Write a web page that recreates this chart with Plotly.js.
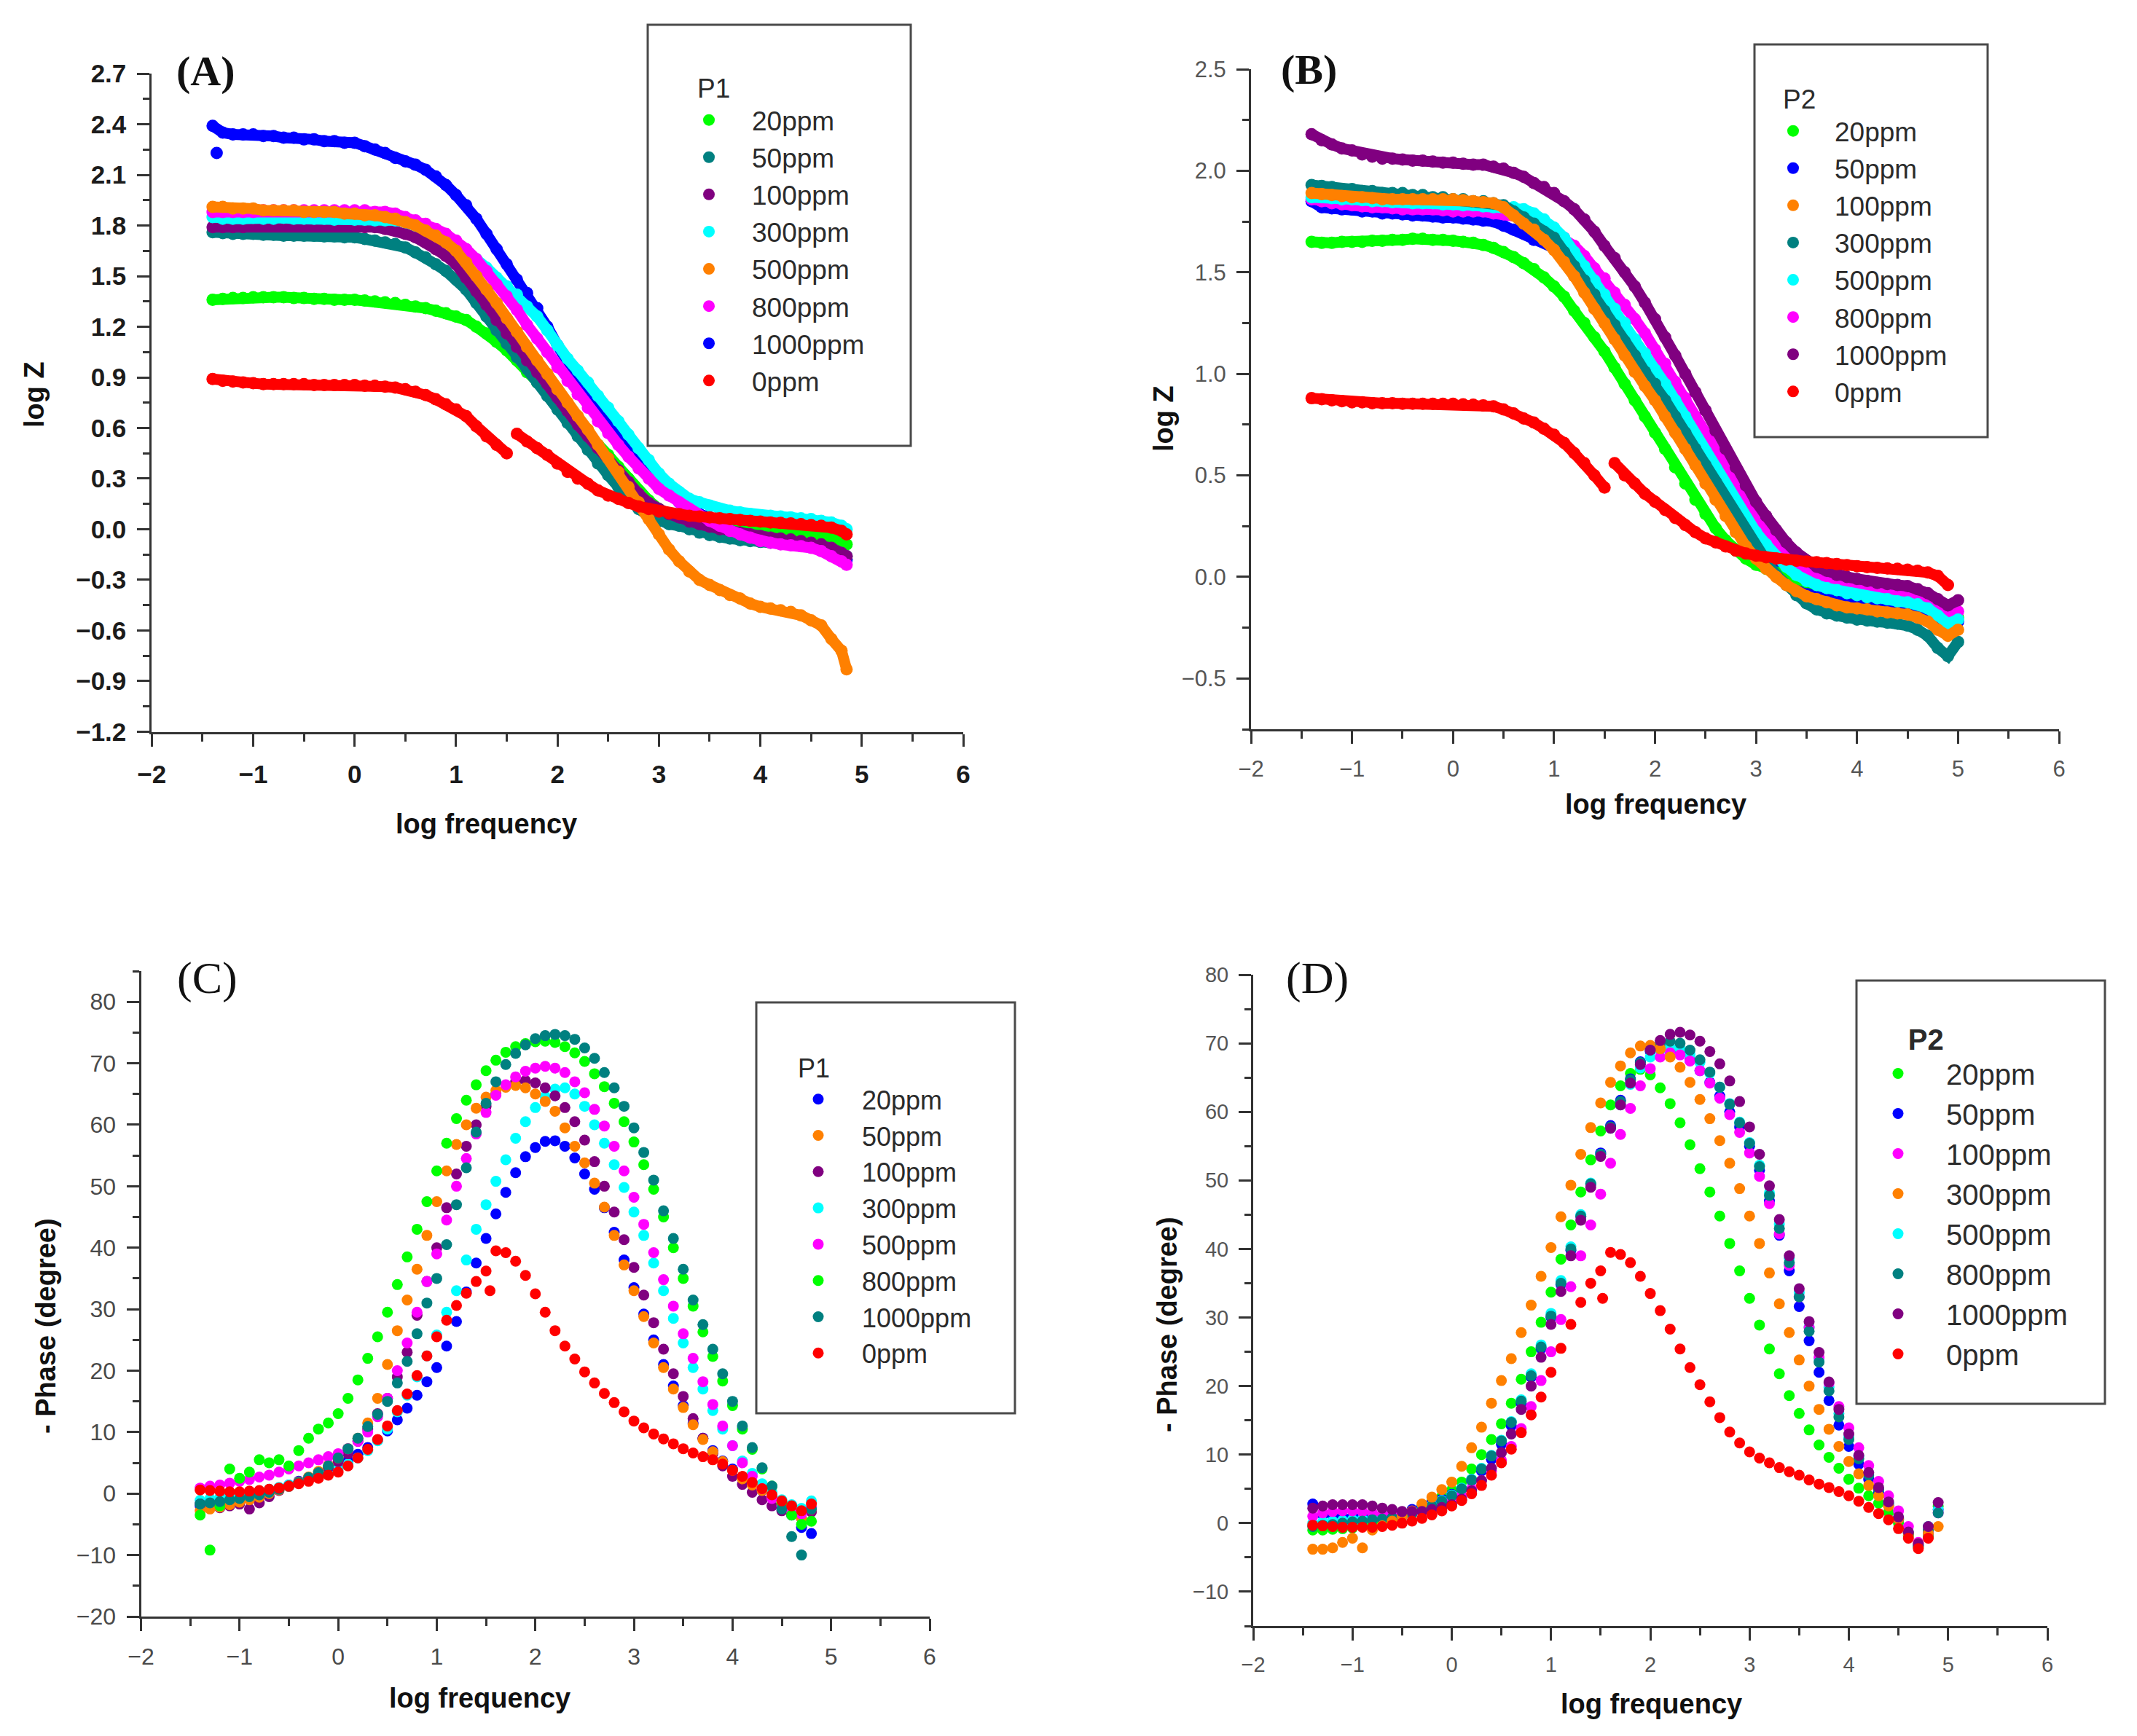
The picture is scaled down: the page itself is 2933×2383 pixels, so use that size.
<!DOCTYPE html>
<html>
<head>
<meta charset="utf-8">
<script src="https://cdn.plot.ly/plotly-3.0.1.min.js"></script>
<style>
html,body{margin:0;padding:0;background:#ffffff;}
#chart{width:2933px;height:2383px;}
</style>
</head>
<body>
<div id="chart"></div>
<script>
// ---------- shared x values (log frequency) ----------
const LOGF_A = [-1.4,-1.3,-1.2,-1.1,-1.0,-0.9,-0.8,-0.7,-0.6,-0.5,
  -0.4,-0.3,-0.2,-0.1,0.0,0.1,0.2,0.3,0.4,0.5,
  0.6,0.7,0.8,0.9,1.0,1.1,1.2,1.3,1.4,1.5,
  1.6,1.7,1.8,1.9,2.0,2.1,2.2,2.3,2.4,2.5,
  2.6,2.7,2.8,2.9,3.0,3.1,3.2,3.3,3.4,3.5,
  3.6,3.7,3.8,3.9,4.0,4.1,4.2,4.3,4.4,4.5,
  4.6,4.7,4.8,4.85];
const LOGF_B = [-1.4,-1.3,-1.2,-1.1,-1.0,-0.9,-0.8,-0.7,-0.6,-0.5,
  -0.4,-0.3,-0.2,-0.1,0.0,0.1,0.2,0.3,0.4,0.5,
  0.6,0.7,0.8,0.9,1.0,1.1,1.2,1.3,1.4,1.5,
  1.6,1.7,1.8,1.9,2.0,2.1,2.2,2.3,2.4,2.5,
  2.6,2.7,2.8,2.9,3.0,3.1,3.2,3.3,3.4,3.5,
  3.6,3.7,3.8,3.9,4.0,4.1,4.2,4.3,4.4,4.5,
  4.6,4.7,4.8,4.9,5.0];
const LOGF_C = [-1.4,-1.3,-1.2,-1.1,-1.0,-0.9,-0.8,-0.7,-0.6,-0.5,
  -0.4,-0.3,-0.2,-0.1,0.0,0.1,0.2,0.3,0.4,0.5,
  0.6,0.7,0.8,0.9,1.0,1.1,1.2,1.3,1.4,1.5,
  1.6,1.7,1.8,1.9,2.0,2.1,2.2,2.3,2.4,2.5,
  2.6,2.7,2.8,2.9,3.0,3.1,3.2,3.3,3.4,3.5,
  3.6,3.7,3.8,3.9,4.0,4.1,4.2,4.3,4.4,4.5,
  4.6,4.7,4.8];
const LOGF_D = [-1.4,-1.3,-1.2,-1.1,-1.0,-0.9,-0.8,-0.7,-0.6,-0.5,
  -0.4,-0.3,-0.2,-0.1,0.0,0.1,0.2,0.3,0.4,0.5,
  0.6,0.7,0.8,0.9,1.0,1.1,1.2,1.3,1.4,1.5,
  1.6,1.7,1.8,1.9,2.0,2.1,2.2,2.3,2.4,2.5,
  2.6,2.7,2.8,2.9,3.0,3.1,3.2,3.3,3.4,3.5,
  3.6,3.7,3.8,3.9,4.0,4.1,4.2,4.3,4.4,4.5,
  4.6,4.7,4.8,4.9];

const LEGEND_LABELS = ['20ppm','50ppm','100ppm','300ppm','500ppm','800ppm','1000ppm','0ppm'];

// ---------- (A) P1, log Z ----------
const A_20 = [1.36,1.365,1.37,1.37,1.375,1.375,1.375,1.375,1.37,1.37,
  1.365,1.365,1.36,1.36,1.36,1.355,1.35,1.345,1.34,1.33,
  1.32,1.31,1.295,1.28,1.26,1.24,1.20,1.16,1.11,1.06,
  1.00,0.93,0.87,0.80,0.74,0.68,0.62,0.56,0.50,0.44,
  0.37,0.30,0.23,0.17,0.12,0.08,0.05,0.03,0.015,0.005,
  0.0,-0.005,-0.01,-0.015,-0.02,-0.02,-0.025,-0.03,-0.03,-0.035,
  -0.04,-0.05,-0.07,-0.09];
const A_50 = [1.76,1.755,1.75,1.75,1.75,1.745,1.745,1.74,1.74,1.74,
  1.74,1.735,1.735,1.73,1.73,1.72,1.71,1.70,1.69,1.67,
  1.64,1.61,1.57,1.53,1.48,1.42,1.34,1.26,1.18,1.10,
  1.02,0.95,0.87,0.79,0.71,0.63,0.55,0.47,0.39,0.32,
  0.25,0.18,0.12,0.08,0.05,0.03,0.02,0.00,-0.02,-0.035,
  -0.045,-0.055,-0.065,-0.07,-0.075,-0.08,-0.085,-0.09,-0.095,-0.10,
  -0.105,-0.12,-0.15,-0.16];
const A_100 = [1.79,1.79,1.79,1.79,1.80,1.80,1.80,1.80,1.80,1.80,
  1.80,1.80,1.80,1.80,1.80,1.79,1.79,1.78,1.77,1.75,
  1.73,1.70,1.66,1.62,1.57,1.49,1.41,1.33,1.24,1.16,
  1.08,1.00,0.93,0.86,0.78,0.70,0.62,0.55,0.48,0.42,
  0.35,0.28,0.21,0.155,0.12,0.09,0.07,0.045,0.03,0.015,
  0.0,-0.01,-0.02,-0.03,-0.04,-0.05,-0.055,-0.06,-0.07,-0.08,
  -0.09,-0.11,-0.14,-0.16];
const A_300 = [1.85,1.84,1.84,1.84,1.845,1.84,1.84,1.845,1.84,1.84,
  1.84,1.84,1.835,1.84,1.835,1.835,1.83,1.83,1.83,1.82,
  1.80,1.78,1.76,1.73,1.69,1.65,1.60,1.55,1.49,1.44,
  1.39,1.32,1.26,1.18,1.09,1.01,0.94,0.87,0.79,0.72,
  0.64,0.56,0.48,0.41,0.33,0.27,0.22,0.18,0.16,0.14,
  0.12,0.11,0.10,0.09,0.08,0.08,0.075,0.07,0.065,0.06,
  0.05,0.04,0.02,0.00];
const A_500 = [1.91,1.91,1.90,1.90,1.90,1.89,1.89,1.89,1.89,1.88,
  1.88,1.88,1.88,1.87,1.87,1.86,1.86,1.85,1.84,1.82,
  1.80,1.77,1.74,1.70,1.65,1.58,1.50,1.42,1.34,1.25,
  1.17,1.08,1.00,0.92,0.83,0.75,0.67,0.59,0.50,0.42,
  0.34,0.25,0.16,0.06,-0.03,-0.12,-0.19,-0.25,-0.30,-0.33,
  -0.36,-0.39,-0.41,-0.44,-0.46,-0.47,-0.48,-0.49,-0.51,-0.54,
  -0.57,-0.65,-0.72,-0.83];
const A_800 = [1.88,1.88,1.88,1.88,1.88,1.89,1.89,1.89,1.89,1.89,
  1.89,1.89,1.89,1.89,1.89,1.89,1.88,1.88,1.87,1.85,
  1.83,1.81,1.78,1.75,1.71,1.66,1.60,1.53,1.45,1.38,
  1.30,1.21,1.13,1.05,0.96,0.88,0.80,0.72,0.64,0.57,
  0.50,0.43,0.36,0.30,0.24,0.20,0.16,0.12,0.08,0.05,
  0.02,-0.01,-0.03,-0.05,-0.07,-0.08,-0.09,-0.095,-0.10,-0.11,
  -0.13,-0.16,-0.19,-0.21];
const A_1000 = [2.39,2.35,2.34,2.34,2.34,2.33,2.33,2.32,2.32,2.31,
  2.31,2.30,2.30,2.29,2.29,2.27,2.25,2.23,2.20,2.18,
  2.16,2.13,2.09,2.04,1.98,1.92,1.84,1.75,1.66,1.57,
  1.48,1.40,1.31,1.20,1.09,0.98,0.88,0.79,0.71,0.64,
  0.56,0.48,0.41,0.34,0.28,0.22,0.16,0.12,0.09,0.07,
  0.05,0.03,0.02,0.01,0.00,-0.01,-0.02,-0.03,-0.04,-0.05,
  -0.07,-0.10,-0.15,-0.18];
const A_1000_OUT_X = [-1.36];
const A_1000_OUT_Y = [2.23];
const A_0 = [0.89,0.88,0.875,0.87,0.865,0.86,0.86,0.86,0.86,0.86,
  0.855,0.855,0.855,0.855,0.855,0.85,0.85,0.845,0.84,0.83,
  0.815,0.795,0.77,0.74,0.71,0.67,0.61,0.55,0.50,0.45,
  0.565,0.52,0.48,0.44,0.39,0.34,0.30,0.27,0.23,0.20,
  0.18,0.155,0.135,0.12,0.105,0.095,0.09,0.08,0.075,0.07,
  0.065,0.06,0.055,0.05,0.045,0.04,0.038,0.035,0.03,0.025,
  0.02,0.01,-0.01,-0.03];

// ---------- (B) P2, log Z ----------
const B_20 = [1.65,1.645,1.645,1.65,1.65,1.65,1.655,1.655,1.66,1.66,
  1.665,1.665,1.66,1.66,1.655,1.65,1.645,1.635,1.62,1.60,
  1.575,1.545,1.515,1.475,1.43,1.38,1.31,1.25,1.18,1.11,
  1.03,0.95,0.87,0.79,0.71,0.63,0.54,0.46,0.38,0.31,
  0.24,0.18,0.13,0.09,0.06,0.04,0.02,0.005,-0.01,-0.025,
  -0.04,-0.05,-0.065,-0.075,-0.085,-0.095,-0.10,-0.11,-0.115,-0.12,
  -0.13,-0.15,-0.18,-0.22,-0.20];
const B_50 = [1.85,1.82,1.815,1.81,1.81,1.80,1.80,1.79,1.79,1.785,
  1.78,1.78,1.775,1.77,1.77,1.765,1.76,1.755,1.75,1.73,
  1.71,1.69,1.66,1.65,1.62,1.58,1.52,1.45,1.38,1.31,
  1.24,1.17,1.10,1.02,0.95,0.88,0.80,0.72,0.64,0.56,
  0.48,0.40,0.32,0.24,0.17,0.10,0.04,-0.01,-0.04,-0.07,
  -0.09,-0.10,-0.11,-0.12,-0.125,-0.13,-0.135,-0.14,-0.145,-0.15,
  -0.16,-0.18,-0.21,-0.25,-0.22];
const B_100 = [1.89,1.885,1.88,1.875,1.87,1.87,1.865,1.86,1.86,1.86,
  1.86,1.86,1.86,1.86,1.86,1.855,1.85,1.845,1.84,1.82,
  1.78,1.74,1.71,1.66,1.61,1.55,1.48,1.40,1.32,1.25,
  1.17,1.09,1.01,0.94,0.87,0.79,0.71,0.63,0.55,0.46,
  0.38,0.30,0.22,0.15,0.09,0.04,0.0,-0.04,-0.07,-0.095,
  -0.11,-0.125,-0.14,-0.15,-0.155,-0.16,-0.17,-0.175,-0.18,-0.185,
  -0.20,-0.22,-0.26,-0.29,-0.26];
const B_300 = [1.93,1.925,1.92,1.91,1.91,1.90,1.90,1.89,1.89,1.89,
  1.88,1.88,1.87,1.87,1.86,1.86,1.85,1.85,1.84,1.83,
  1.80,1.77,1.74,1.70,1.67,1.60,1.53,1.46,1.39,1.31,
  1.24,1.16,1.09,1.01,0.95,0.87,0.79,0.71,0.63,0.55,
  0.47,0.38,0.30,0.22,0.15,0.08,0.01,-0.04,-0.09,-0.13,
  -0.16,-0.18,-0.19,-0.20,-0.21,-0.215,-0.22,-0.225,-0.23,-0.24,
  -0.26,-0.29,-0.35,-0.39,-0.32];
const B_500 = [1.87,1.87,1.865,1.86,1.86,1.855,1.85,1.85,1.845,1.845,
  1.84,1.84,1.84,1.835,1.835,1.83,1.83,1.825,1.82,1.82,
  1.82,1.81,1.79,1.76,1.72,1.67,1.60,1.53,1.46,1.39,
  1.32,1.25,1.17,1.10,1.02,0.95,0.87,0.79,0.70,0.62,
  0.54,0.45,0.37,0.29,0.22,0.16,0.10,0.05,0.01,-0.02,
  -0.04,-0.055,-0.065,-0.08,-0.09,-0.10,-0.105,-0.11,-0.12,-0.125,
  -0.135,-0.155,-0.19,-0.23,-0.21];
const B_800 = [1.86,1.85,1.84,1.835,1.83,1.825,1.82,1.82,1.815,1.81,
  1.81,1.81,1.81,1.805,1.80,1.80,1.80,1.80,1.79,1.785,
  1.78,1.77,1.75,1.72,1.70,1.67,1.63,1.58,1.52,1.47,
  1.40,1.34,1.27,1.20,1.12,1.05,0.96,0.88,0.79,0.71,
  0.62,0.53,0.45,0.37,0.29,0.22,0.15,0.10,0.06,0.025,
  0.0,-0.02,-0.035,-0.05,-0.06,-0.07,-0.075,-0.08,-0.09,-0.095,
  -0.105,-0.12,-0.15,-0.195,-0.17];
const B_1000 = [2.18,2.15,2.13,2.11,2.10,2.08,2.07,2.06,2.06,2.055,
  2.05,2.05,2.045,2.04,2.04,2.035,2.03,2.03,2.02,2.01,
  1.99,1.97,1.94,1.92,1.89,1.85,1.81,1.76,1.70,1.63,
  1.57,1.50,1.43,1.35,1.27,1.18,1.09,1.00,0.91,0.82,
  0.72,0.63,0.54,0.45,0.37,0.30,0.23,0.17,0.12,0.08,
  0.05,0.03,0.01,0.0,-0.01,-0.02,-0.03,-0.035,-0.04,-0.045,
  -0.06,-0.08,-0.11,-0.14,-0.115];
const B_0 = [0.88,0.875,0.87,0.865,0.86,0.86,0.855,0.855,0.855,0.853,
  0.853,0.853,0.853,0.853,0.853,0.85,0.848,0.845,0.84,0.825,
  0.805,0.78,0.76,0.73,0.70,0.66,0.61,0.56,0.50,0.44,
  0.56,0.50,0.46,0.41,0.37,0.33,0.29,0.255,0.22,0.19,
  0.17,0.15,0.13,0.115,0.105,0.097,0.09,0.085,0.08,0.076,
  0.072,0.068,0.063,0.058,0.053,0.048,0.045,0.042,0.04,0.036,
  0.03,0.022,0.005,-0.04];

// ---------- (C) P1, -Phase ----------
const C_20 = [-2.0,-1.8,-1.6,-1.3,-1.0,-0.6,-0.2,0.3,0.8,1.4,
  2.0,2.6,3.2,3.9,4.6,5.4,6.4,7.5,8.7,10.2,
  12.0,13.9,16.0,18.2,20.5,24.0,28.0,32.8,37.5,41.5,
  45.5,49.0,52.2,54.8,56.3,57.3,57.4,56.5,54.6,52.0,
  49.5,46.5,42.5,38.0,33.5,29.2,25.0,21.0,17.5,14.3,
  11.5,9.0,7.0,5.3,4.0,2.7,1.6,0.5,-0.7,-2.0,
  -3.5,-5.5,-6.5];
const C_50 = [-2.8,-2.5,-2.2,-1.8,-1.4,-1.0,-0.6,0.0,0.6,1.2,
  1.9,2.7,3.6,4.6,5.8,7.3,9.0,11.5,15.5,21.0,
  26.5,31.5,36.5,42.0,47.5,52.5,56.8,60.0,62.7,64.5,
  65.6,66.1,66.4,66.0,65.0,63.8,62.2,59.5,56.5,53.8,
  50.5,46.6,42.0,37.2,33.0,28.8,24.5,20.5,17.0,14.0,
  11.2,8.8,6.8,5.2,3.8,2.4,1.4,0.5,-0.6,-1.6,
  -2.8,-4.0,-2.5];
const C_100 = [-1.7,-2.0,-2.3,-2.0,-1.7,-2.5,-1.5,-0.5,0.5,1.2,
  1.8,2.5,3.2,4.2,5.2,6.5,8.5,10.5,13.0,15.5,
  19.0,23.0,29.0,34.5,40.0,46.5,52.0,56.5,60.0,63.0,
  65.0,66.4,67.0,67.2,66.8,66.0,64.7,62.8,60.5,57.5,
  54.0,50.0,45.8,41.3,36.8,32.3,27.8,23.5,19.5,15.8,
  12.2,9.0,6.5,4.5,2.8,1.5,0.2,-1.0,-2.0,-2.8,
  -3.4,-4.0,-3.0];
const C_300 = [-1.1,-0.8,-0.6,-0.4,-0.2,0.1,0.4,0.7,1.0,1.4,
  1.8,2.3,2.8,3.4,4.0,4.8,5.8,7.0,8.6,10.5,
  13.3,16.0,19.0,22.4,25.8,29.5,33.0,38.0,43.0,47.0,
  50.8,54.3,57.8,60.5,62.8,64.6,65.8,66.0,65.0,63.0,
  60.0,57.0,53.5,49.8,45.8,42.0,37.5,33.0,28.5,24.5,
  20.5,17.0,13.5,10.5,7.8,5.3,3.3,1.6,0.2,-1.0,
  -1.8,-2.4,-1.2];
const C_500 = [0.9,1.2,1.4,1.7,2.0,2.3,2.7,3.0,3.5,4.0,
  4.5,5.0,5.5,6.0,6.5,7.3,8.5,10.0,12.5,15.5,
  20.0,24.5,29.5,34.5,39.0,44.5,50.0,54.5,58.5,62.0,
  64.8,66.5,67.8,68.7,69.2,69.5,69.2,68.5,67.0,65.2,
  62.5,59.8,56.5,52.5,48.2,43.8,39.2,34.8,30.5,26.0,
  22.0,18.2,14.5,11.0,7.8,5.0,2.8,0.8,-0.8,-2.0,
  -2.8,-3.3,-2.3];
const C_800 = [-3.5,-9.2,-2.0,4.0,2.5,3.5,5.5,5.0,5.5,4.5,
  7.0,9.0,10.5,11.5,13.0,15.5,18.5,22.0,25.5,29.5,
  34.0,38.5,43.0,47.5,52.5,57.0,61.0,64.0,66.5,68.8,
  70.5,71.8,72.7,73.2,73.5,73.6,73.4,72.7,71.7,70.3,
  68.3,66.2,63.5,60.5,57.2,53.5,49.5,45.0,40.0,35.0,
  30.5,26.3,22.3,18.3,14.3,10.5,7.2,4.0,1.2,-1.5,
  -3.5,-5.0,-4.5];
const C_1000 = [-1.7,-1.5,-1.3,-1.0,-0.8,-0.5,-0.2,0.2,0.7,1.2,
  1.8,2.6,3.4,4.5,5.8,7.3,9.0,10.9,12.9,15.0,
  18.0,21.5,26.0,31.0,35.0,40.5,47.0,53.0,58.8,63.5,
  67.0,69.8,71.6,73.0,74.0,74.5,74.7,74.5,73.9,72.5,
  70.8,68.5,66.0,63.0,59.5,55.5,51.0,46.0,41.5,36.5,
  31.5,27.5,23.5,19.5,15.0,11.0,7.5,4.2,1.2,-2.5,
  -7.0,-10.0,-2.5];
const C_0 = [0.6,0.5,0.4,0.3,0.3,0.4,0.5,0.7,0.9,1.2,
  1.6,2.0,2.5,3.0,3.5,4.5,5.8,7.2,8.8,11.0,
  13.5,16.2,19.2,22.4,25.5,28.2,30.6,32.6,34.5,36.2,
  39.5,39.2,37.8,35.5,32.5,29.5,26.5,24.0,21.9,19.8,
  18.0,16.3,14.8,13.3,11.8,10.7,9.7,8.9,8.1,7.3,
  6.6,6.0,5.5,4.8,3.8,2.8,1.8,0.8,-0.2,-1.2,
  -2.0,-2.8,-1.7];
const C_0_OUT_X = [1.54];
const C_0_OUT_Y = [33.0];

// ---------- (D) P2, -Phase ----------
const D_20 = [-1.0,-1.0,-0.9,-0.8,-0.7,-0.5,-0.3,0.0,0.4,1.0,
  1.7,2.4,3.1,3.9,4.8,6.0,7.9,10.0,12.2,14.5,
  17.5,21.0,25.0,29.3,33.7,38.5,43.5,48.3,53.0,57.2,
  61.0,63.8,65.6,66.2,65.4,63.5,61.2,58.4,55.2,51.7,
  48.3,44.8,40.8,36.8,32.8,28.9,25.4,21.8,18.6,16.0,
  13.6,11.4,9.6,8.0,6.4,5.1,4.0,2.9,1.6,0.0,
  -1.8,-3.5,-2.0,2.5];
const D_50 = [2.8,1.2,1.0,1.0,1.0,1.0,1.0,1.0,1.2,1.5,
  2.0,2.5,3.0,3.5,4.2,5.0,6.2,7.6,9.3,11.5,
  14.2,17.5,21.3,25.5,30.0,34.8,39.8,44.8,49.5,54.0,
  58.0,61.7,64.8,67.3,68.8,69.5,69.3,68.5,67.5,66.0,
  64.3,62.3,60.0,57.8,55.0,51.5,47.0,42.0,36.8,31.6,
  26.6,22.0,17.9,14.3,11.2,8.6,6.4,4.5,2.6,0.6,
  -1.4,-3.2,-1.5,2.0];
const D_100 = [1.0,1.5,1.7,1.8,1.8,1.7,1.5,1.3,1.2,1.2,
  1.4,1.7,2.1,2.6,3.2,4.0,5.0,6.2,7.6,9.2,
  11.2,13.8,17.0,20.8,25.0,29.7,34.5,39.0,43.5,48.0,
  52.5,56.7,60.5,63.8,66.3,68.0,68.6,68.3,67.4,66.0,
  64.2,62.0,59.6,57.0,54.0,50.6,46.6,42.2,37.6,33.0,
  28.5,24.2,20.4,17.0,13.9,11.0,8.4,6.1,4.0,1.8,
  -0.5,-2.8,-1.0,1.5];
const D_300 = [-3.8,-3.8,-3.6,-2.8,-2.2,-3.6,-1.0,-0.4,0.3,1.0,
  1.8,2.8,3.8,4.9,6.0,8.3,11.0,14.0,17.5,20.8,
  24.0,27.8,31.8,36.0,40.2,44.7,49.3,53.8,57.7,61.3,
  64.3,66.7,68.6,69.6,69.7,69.2,68.0,66.5,64.3,61.8,
  59.0,55.8,52.5,48.8,44.8,40.8,36.5,32.0,27.8,23.8,
  20.0,16.6,13.7,11.2,9.0,7.2,5.5,4.0,2.5,0.6,
  -1.5,-3.0,-1.5,-0.5];
const D_500 = [0.0,0.2,0.3,0.4,0.5,0.6,0.7,0.8,1.0,1.2,
  1.5,2.0,2.6,3.3,4.1,5.1,6.4,8.0,9.9,12.1,
  14.8,18.0,21.8,26.0,30.6,35.4,40.3,45.0,49.6,53.8,
  57.6,61.0,64.0,66.4,68.0,69.0,69.4,69.2,68.4,67.2,
  65.6,63.6,61.2,58.5,55.5,52.2,48.2,43.6,38.6,33.6,
  28.6,24.0,19.8,16.0,12.6,9.7,7.2,5.0,2.9,0.8,
  -1.4,-3.2,-0.5,2.0];
const D_800 = [-0.5,-0.3,-0.2,0.0,0.2,0.3,0.5,0.6,0.8,1.0,
  1.4,1.9,2.5,3.2,4.0,5.0,6.3,7.9,9.8,12.0,
  14.7,17.8,21.5,25.7,30.2,35.0,40.0,44.8,49.5,53.8,
  57.8,61.5,64.7,67.2,69.0,70.0,70.3,70.0,69.0,67.6,
  65.8,63.6,61.1,58.4,55.4,52.0,47.8,43.0,38.0,33.0,
  28.0,23.5,19.3,15.5,12.2,9.4,7.0,4.9,2.8,0.7,
  -1.5,-3.3,-1.0,1.5];
const D_1000 = [2.2,2.5,2.7,2.7,2.7,2.7,2.5,2.2,2.0,1.7,
  1.7,1.7,2.0,2.3,2.7,3.5,4.7,6.2,8.0,10.3,
  13.0,16.6,20.0,24.2,29.0,33.8,39.0,44.2,49.0,53.5,
  57.6,61.0,64.2,66.9,69.0,70.4,71.3,71.6,71.2,70.3,
  68.8,67.0,64.5,61.5,57.8,53.8,49.2,44.3,39.0,34.2,
  29.4,24.9,20.6,16.6,13.0,9.9,7.4,5.2,3.1,0.9,
  -1.3,-3.0,-0.5,3.0];
const D_0 = [-0.3,-0.4,-0.5,-0.6,-0.6,-0.6,-0.6,-0.5,-0.3,0.0,
  0.3,0.7,1.2,1.8,2.5,3.3,4.3,5.5,7.0,8.8,
  10.8,13.2,15.8,18.4,22.0,25.5,29.0,32.2,35.0,36.8,
  39.5,39.2,38.0,36.0,33.5,31.0,28.3,25.4,22.7,20.2,
  17.7,15.4,13.3,11.7,10.4,9.5,8.8,8.1,7.5,7.0,
  6.3,5.7,5.2,4.6,4.0,3.2,2.3,1.4,0.5,-0.8,
  -2.2,-3.7,-2.2];
const D_0_OUT_X = [1.52];
const D_0_OUT_Y = [32.8];

// ---------- styling ----------
const COL = {green:'#00ff00', teal:'#008080', purple:'#800080', cyan:'#00ffff',
             orange:'#ff8000', magenta:'#ff00ff', blue:'#0000ff', red:'#ff0000'};
const W = 2933, H = 2383;
const px = v => v / W;
const py = v => 1 - v / H;

const panels = [
  {xa:'x', ya:'y', legend:'legend', x:LOGF_A, lines:true, size:17, lw:15,
   series:{'20ppm':[A_20,'green'],'50ppm':[A_50,'teal'],'100ppm':[A_100,'purple'],'300ppm':[A_300,'cyan'],
           '500ppm':[A_500,'orange'],'800ppm':[A_800,'magenta'],'1000ppm':[A_1000,'blue',A_1000_OUT_X,A_1000_OUT_Y],'0ppm':[A_0,'red']},
   order:['1000ppm','20ppm','50ppm','100ppm','300ppm','800ppm','500ppm','0ppm']},
  {xa:'x2', ya:'y2', legend:'legend2', x:LOGF_B, lines:true, size:17, lw:15,
   series:{'20ppm':[B_20,'green'],'50ppm':[B_50,'blue'],'100ppm':[B_100,'orange'],'300ppm':[B_300,'teal'],
           '500ppm':[B_500,'cyan'],'800ppm':[B_800,'magenta'],'1000ppm':[B_1000,'purple'],'0ppm':[B_0,'red']},
   order:['50ppm','20ppm','800ppm','500ppm','300ppm','100ppm','1000ppm','0ppm']},
  {xa:'x3', ya:'y3', legend:'legend3', x:LOGF_C, lines:false, size:15,
   series:{'20ppm':[C_20,'blue'],'50ppm':[C_50,'orange'],'100ppm':[C_100,'purple'],'300ppm':[C_300,'cyan'],
           '500ppm':[C_500,'magenta'],'800ppm':[C_800,'green'],'1000ppm':[C_1000,'teal'],'0ppm':[C_0,'red',C_0_OUT_X,C_0_OUT_Y]},
   order:['20ppm','300ppm','100ppm','50ppm','500ppm','800ppm','1000ppm','0ppm']},
  {xa:'x4', ya:'y4', legend:'legend4', x:LOGF_D, lines:false, size:15,
   series:{'20ppm':[D_20,'green'],'50ppm':[D_50,'blue'],'100ppm':[D_100,'magenta'],'300ppm':[D_300,'orange'],
           '500ppm':[D_500,'cyan'],'800ppm':[D_800,'teal'],'1000ppm':[D_1000,'purple'],'0ppm':[D_0,'red',D_0_OUT_X,D_0_OUT_Y]},
   order:['20ppm','50ppm','500ppm','100ppm','800ppm','300ppm','1000ppm','0ppm']}
];

const traces = [];
panels.forEach(p => {
  p.order.forEach(lbl => {
    const s = p.series[lbl];
    const ys = s[0];
    const color = COL[s[1]];
    const xs = p.x.slice(0, ys.length);
    if (p.lines) {
      let start = 0;
      for (let i = 1; i <= ys.length; i++) {
        if (i === ys.length || ys[i] - ys[i-1] > 0.1) {
          traces.push({type:'scatter', mode:'lines', x:xs.slice(start, i), y:ys.slice(start, i),
            xaxis:p.xa, yaxis:p.ya, line:{color:color, width:p.lw}, showlegend:false, hoverinfo:'skip'});
          start = i;
        }
      }
    }
    const mx = s[2] ? xs.concat(s[2]) : xs;
    const my = s[3] ? ys.concat(s[3]) : ys;
    traces.push({type:'scatter', mode:'markers', name:lbl, x:mx, y:my, xaxis:p.xa, yaxis:p.ya,
      legend:p.legend, legendrank:LEGEND_LABELS.indexOf(lbl) + 1,
      marker:{color:color, size:p.size, line:{width:0}}});
  });
});

function xAxis(d0, d1, anchor, tf) {
  return {domain:[px(d0), px(d1)], range:[-2, 6], anchor:anchor, tick0:0, dtick:1,
    showline:true, linewidth:3, linecolor:'#333', ticks:'outside', ticklen:17, tickwidth:3, tickcolor:'#333',
    minor:{dtick:0.5, ticks:'outside', ticklen:10, tickwidth:3, tickcolor:'#333'},
    showgrid:false, zeroline:false, tickfont:tf, ticklabelstandoff:8, fixedrange:true};
}
function yAxis(top, bottom, range, dtick, mdt, anchor, tf, fmt) {
  const a = {domain:[py(bottom), py(top)], range:range, anchor:anchor, tick0:0, dtick:dtick,
    showline:true, linewidth:3, linecolor:'#333', ticks:'outside', ticklen:17, tickwidth:3, tickcolor:'#333',
    minor:{dtick:mdt, ticks:'outside', ticklen:9, tickwidth:3, tickcolor:'#333'},
    showgrid:false, zeroline:false, tickfont:tf, ticklabelstandoff:8, fixedrange:true};
  if (fmt) a.tickformat = fmt;
  return a;
}
const SANS = 'Liberation Sans, Arial, sans-serif';
const SERIF = 'Liberation Serif, Times New Roman, serif';
const tfA = {family:SANS, size:35, color:'#1b1b1b', weight:'bold'};
const tfB = {family:SANS, size:31, color:'#555555'};
const tfC = {family:SANS, size:32, color:'#4a4a4a'};
const tfD = {family:SANS, size:29, color:'#555555'};

function legendCfg(leftPx, topPx, size, itemW, title, bold) {
  return {x:px(leftPx), y:py(topPx), xanchor:'left', yanchor:'top', bgcolor:'rgba(0,0,0,0)',
    borderwidth:0, itemwidth:itemW, itemclick:false, itemdoubleclick:false,
    font:{family:SANS, size:size, color:'#2b2b2b'},
    title:{text:title, font:{family:SANS, size:size, color:'#2b2b2b', weight: bold ? 'bold' : 'normal'}}};
}
const NB = n => '\u00a0'.repeat(n);

function box(x0, y0, x1, y1) {
  return {type:'rect', xref:'paper', yref:'paper', x0:px(x0), x1:px(x1), y0:py(y1), y1:py(y0),
    line:{color:'#4a4a4a', width:3}, fillcolor:'rgba(0,0,0,0)', layer:'below'};
}

function txt(x, y, text, font, angle) {
  return {xref:'paper', yref:'paper', x:px(x), y:py(y), xanchor:'center', yanchor:'middle',
    text:text, showarrow:false, font:font, textangle:angle || 0};
}
const titleFont = {family:SANS, size:38, color:'#111111', weight:'bold'};

const layout = {
  width:W, height:H, margin:{l:0, r:0, t:0, b:0},
  paper_bgcolor:'#ffffff', plot_bgcolor:'#ffffff', showlegend:true,
  xaxis: xAxis(208.3, 1322, 'y', tfA),
  yaxis: yAxis(101, 1004.5, [-1.2001, 2.7001], 0.3, 0.15, 'x', tfA, '.1f'),
  xaxis2: xAxis(1717, 2826, 'y2', tfB),
  yaxis2: yAxis(95, 1001, [-0.75, 2.5001], 0.5, 0.25, 'x2', tfB, '.1f'),
  xaxis3: xAxis(193.5, 1276, 'y3', tfC),
  yaxis3: yAxis(1333, 2219, [-20, 85], 10, 5, 'x3', tfC),
  xaxis4: xAxis(1720, 2810, 'y4', tfD),
  yaxis4: yAxis(1338, 2232, [-15, 80], 10, 5, 'x4', tfD),
  legend: legendCfg(914, 86, 37, 108, NB(4) + 'P1', false),
  legend2: legendCfg(2404, 101, 37, 104, NB(4) + 'P2', false),
  legend3: legendCfg(1063, 1432, 36, 110, NB(3) + 'P1', false),
  legend4: legendCfg(2539, 1389, 40, 122, NB(7) + 'P2', true),
  shapes: [box(889, 34, 1250, 612), box(2408, 61, 2728, 600), box(1038, 1376, 1393, 1940), box(2548, 1346, 2889, 1927)],
  annotations: [
    txt(282, 98, '<b>(A)</b>', {family:SERIF, size:58, color:'#111'}),
    txt(1796, 95, '<b>(B)</b>', {family:SERIF, size:58, color:'#111'}),
    txt(284, 1342, '(C)', {family:SERIF, size:62, color:'#111'}),
    txt(1808, 1342, '(D)', {family:SERIF, size:62, color:'#111'}),
    txt(667, 1131, 'log frequency', titleFont),
    txt(2272, 1104, 'log frequency', titleFont),
    txt(658, 2331, 'log frequency', titleFont),
    txt(2266, 2339, 'log frequency', titleFont),
    txt(47, 541, 'log Z', titleFont, -90),
    txt(1597, 575, 'log Z', titleFont, -90),
    txt(63, 1820, '- Phase (degree)', titleFont, -90),
    txt(1602, 1818, '- Phase (degree)', titleFont, -90)
  ]
};

Plotly.newPlot('chart', traces, layout, {displayModeBar:false, staticPlot:true});
</script>
</body>
</html>
